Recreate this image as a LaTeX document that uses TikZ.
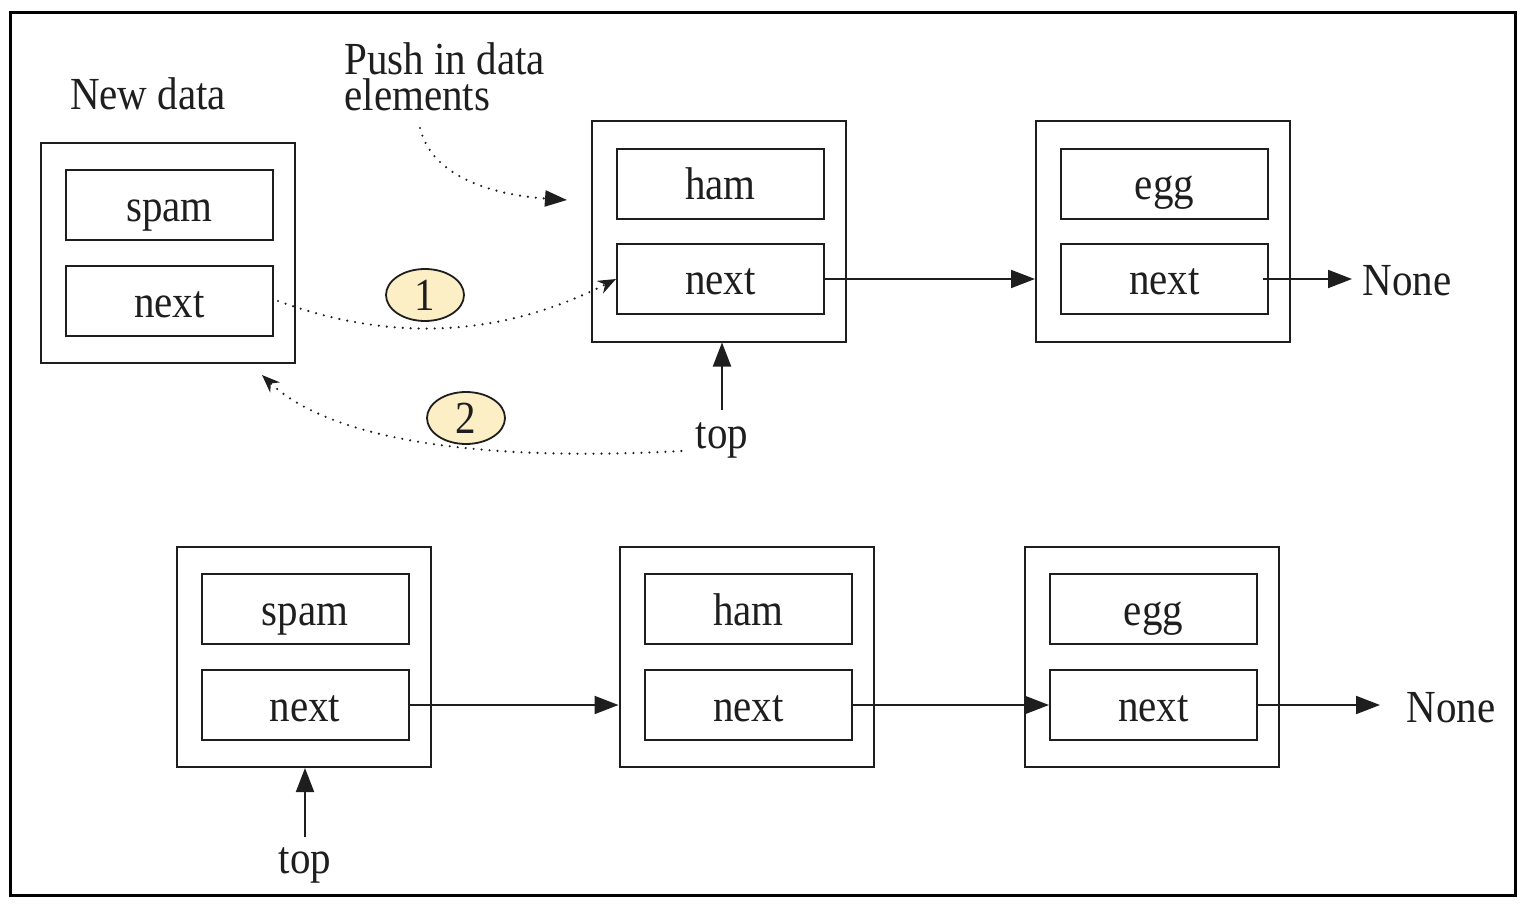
\documentclass[tikz,border=0pt]{standalone}
\usepackage{fontspec}
\setmainfont{Liberation Serif}
\usepackage{graphicx}
\usetikzlibrary{arrows.meta,shapes.geometric,calc}
\newcommand{\vs}[1]{\scalebox{1}[1.12]{#1}}
\definecolor{ln}{HTML}{1E1E1E}
\definecolor{bub}{HTML}{FCEFC6}
\begin{document}
\begin{tikzpicture}[x=0.5pt,y=-0.5pt,
  font=\fontsize{20.5}{24}\selectfont,
  outerbox/.style={draw=ln, line width=1pt, minimum width=127pt, minimum height=110pt, inner sep=0pt},
  field/.style={draw=ln, line width=1pt, minimum width=103.5pt, minimum height=35pt, inner sep=0pt, text height=17.5pt, text depth=1.5pt, text=ln},
  lbl/.style={inner sep=0pt, text=ln},
  link/.style={draw=ln, line width=1pt, -{Triangle[length=12pt,width=9pt]}},
  dots/.style={draw=ln, line width=1.2pt, dash pattern=on 0pt off 4pt, line cap=round},
  bubble/.style={ellipse, draw=ln, line width=0.9pt, fill=bub, minimum width=39pt, minimum height=26pt, inner sep=0pt, text=ln}
]
\useasboundingbox (0,0) rectangle (1526,909);
\draw[line width=1.5pt, black] (10,13) rectangle (1515,895);

% top row
\node[outerbox] (A) at (168,253) {};
\node[field] (As) at (169.5,205.5) {\vs{spam}};
\node[field] (An) at (169.5,301) {\vs{next}};
\node[outerbox] (B) at (719,231.5) {};
\node[field] (Bd) at (720.5,184) {\vs{ham}};
\node[field] (Bn) at (720.5,279) {\vs{next}};
\node[outerbox] (C) at (1163,231.5) {};
\node[field] (Cd) at (1164.5,184) {\vs{egg}};
\node[field] (Cn) at (1164.5,279) {\vs{next}};
\node[lbl, anchor=base west] (none1) at (1362,296) {\vs{None}};
\node[lbl, anchor=base] (newdata) at (148,110) {\vs{New data}};
\node[lbl, anchor=base west] (push) at (344,111) {\vs{\vbox{\baselineskip=16.3pt\lineskiplimit=-30pt\lineskip=0pt\hbox{Push in data}\hbox{elements}}}};
\node[lbl, anchor=base] (top1) at (722,448) {\vs{top}};
\node[bubble] (e1) at (425,295) {\vs{1}};
\node[bubble] (e2) at (466,418) {\vs{2}};

\coordinate (pushstart) at (420,128);
\coordinate (pushend) at (567,200);
\coordinate (end2) at (262,375);

\draw[link] (Bn.east) -- (Bn.east -| C.west);
\draw[link] ([xshift=-3pt]Cn.east) -- ([xshift=-5pt]none1.west |- Cn.east);
\draw[link, shorten <=6pt] (top1.north) -- (top1.north |- B.south);

\draw[dots, -{Triangle[length=11pt,width=8pt]}] (pushstart) .. controls (432,178) and (495,195) .. (pushend);
\draw[dots, -{Stealth[length=9pt,width=7pt]}] ([xshift=2pt]An.east) .. controls (390,342) and (500,338) .. (Bn.west);
\draw[dots, -{Stealth[length=9pt,width=7pt]}] ([xshift=-7pt,yshift=-1.5pt]top1.base west) .. controls (480,462) and (330,440) .. (end2);

% bottom row
\node[outerbox] (D) at (303.5,657) {};
\node[field] (Ds) at (305,609) {\vs{spam}};
\node[field] (Dn) at (305,705) {\vs{next}};
\node[outerbox] (E) at (746.5,657) {};
\node[field] (Ed) at (748.5,609) {\vs{ham}};
\node[field] (En) at (748.5,705) {\vs{next}};
\node[outerbox] (F) at (1152,657) {};
\node[field] (Fd) at (1153.5,609) {\vs{egg}};
\node[field] (Fn) at (1153.5,705) {\vs{next}};
\node[lbl, anchor=base west] (none2) at (1406,722) {\vs{None}};
\node[lbl, anchor=base] (top2) at (305,873) {\vs{top}};

\draw[link] (Dn.east) -- (Dn.east -| E.west);
\draw[link] (En.east) -- (Fn.west);
\draw[link] (Fn.east) -- ([xshift=-13pt]none2.west |- Fn.east);
\draw[link, shorten <=5pt] (top2.north) -- (top2.north |- D.south);
\end{tikzpicture}
\end{document}
